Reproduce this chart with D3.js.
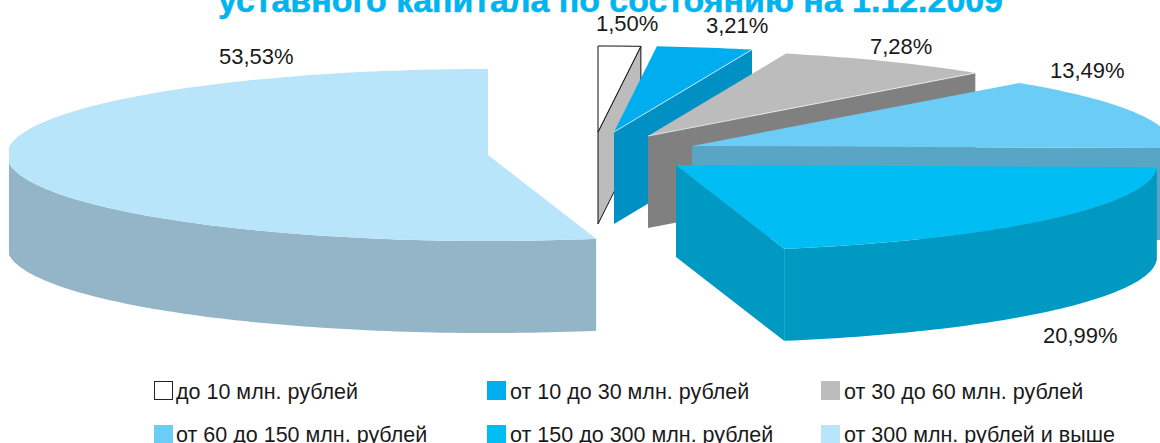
<!doctype html>
<html lang="ru">
  <head>
    <meta charset="utf-8">
    <style>
html, body { margin: 0; padding: 0; background: #fff; overflow: hidden; }
svg { display: block; }
text { font-family: "Liberation Sans", Arial, sans-serif; }
    </style>
    <script src="https://cdn.jsdelivr.net/npm/d3@7"></script>
  </head>
  <body>
    <div id="chart"></div>
    <script type="text/javascript">
//=============================== DATA ===================================
var categories = ['до 10 млн. рублей', 'от 10 до 30 млн. рублей', 'от 30 до 60 млн. рублей',
	'от 60 до 150 млн. рублей', 'от 150 до 300 млн. рублей', 'от 300 млн. рублей и выше']
var shares = [1.50, 3.21, 7.28, 13.49, 20.99, 53.53]
var shareLabels = ['1,50%', '3,21%', '7,28%', '13,49%', '20,99%', '53,53%']
var title = 'уставного капитала по состоянию на 1.12.2009'

//=============================== LAYOUT =================================
var W = 1160, H = 443
var rx = 481, ry = 86, depth = 92
var turn = -0.005	// the pie is turned a hair anticlockwise
var topColors  = ['#ffffff', '#00adef', '#bcbcbc', '#6bcdf6', '#00bdf4', '#b8e5fa']
var wallColors = ['#bcbcbc', '#0090c4', '#808080', '#58a5c6', '#0099c2', '#94b5c8']
// where each exploded slice has its tip, same order as the data
var tips = [[598, 132], [614, 132], [648, 136], [692, 146], [676, 165], [488, 155]]
var labelPos = [[596, 31], [706, 33], [870, 54], [1050, 78], [1043, 343], [219, 64]]
var legendCols = [[154, 176], [487, 510], [821, 844]]
var legendRows = [381, 425]
var legendBase = [399, 442]
var drawOrder = [0, 1, 2, 3, 5, 4]

//=============================== DRAW ===================================
var svg = d3.select('#chart').append('svg').attr('width', W).attr('height', H)
svg.append('defs').append('clipPath').attr('id', 'plot')
	.append('rect').attr('x', 9).attr('y', 0).attr('width', W - 9).attr('height', H)

var arcs = d3.pie().sort(null).startAngle(turn).endAngle(2 * Math.PI + turn)(shares)
// the outer edges at 12 o'clock stay vertical
arcs[0].startAngle = 0
arcs[arcs.length - 1].endAngle = 2 * Math.PI
var line = d3.line()

function pt(i, a, dy) {
	return [tips[i][0] + rx * Math.sin(a), tips[i][1] - ry * Math.cos(a) + (dy || 0)]
}
function sweep(a, b) {
	var n = Math.max(2, Math.ceil((b - a) / 0.02))
	return d3.range(n + 1).map((k)=>{ return a + (b - a) * k / n })
}

svg.append('text').attr('x', 218).attr('y', 12)
	.attr('font-size', 33).attr('font-weight', 'bold').attr('fill', '#00b4f0')
	.attr('stroke', '#00b4f0').attr('stroke-width', 0.5)
	.attr('textLength', 785).attr('lengthAdjust', 'spacingAndGlyphs')
	.text(title)

var g = svg.append('g').attr('clip-path', 'url(#plot)')
drawOrder.forEach((i)=>{
	var a0 = arcs[i].startAngle, a1 = arcs[i].endAngle
	var edge = i == 0 ? '#111' : 'none'

	// cut face along the end radius, turned towards the viewer
	if (a1 < Math.PI) {
		g.append('path')
			.attr('d', line([tips[i], pt(i, a1), pt(i, a1, depth), [tips[i][0], tips[i][1] + depth]]) + 'Z')
			.attr('fill', wallColors[i]).attr('stroke', edge).attr('stroke-width', 1)
	}
	// outer wall, only the front half of the rim shows
	var w0 = Math.max(a0, Math.PI / 2), w1 = Math.min(a1, Math.PI * 1.5)
	if (w1 > w0) {
		var rim = sweep(w0, w1)
		var wall = rim.map((a)=>{ return pt(i, a) })
			.concat(rim.slice().reverse().map((a)=>{ return pt(i, a, depth) }))
		g.append('path').attr('d', line(wall) + 'Z').attr('fill', wallColors[i])
	}
	// top surface
	var top = [tips[i]].concat(sweep(a0, a1).map((a)=>{ return pt(i, a) }))
	g.append('path').attr('d', line(top) + 'Z')
		.attr('fill', topColors[i]).attr('stroke', edge).attr('stroke-width', 1)
	// thin light seam on the two middle slices
	if (i == 1 || i == 2) {
		g.append('path').attr('d', line([tips[i], pt(i, a1)]))
			.attr('stroke', '#e8f4fa').attr('stroke-width', 0.8).attr('fill', 'none')
	}
})

svg.selectAll('text.share').data(shareLabels).enter().append('text').classed('share', true)
	.attr('x', (d, i)=>{ return labelPos[i][0] })
	.attr('y', (d, i)=>{ return labelPos[i][1] })
	.attr('font-size', 22).attr('fill', '#1a1a1a')
	.text((d)=>{ return d })

var legend = svg.selectAll('g.legend').data(categories).enter().append('g').classed('legend', true)
legend.append('rect')
	.attr('x', (d, i)=>{ return legendCols[i % 3][0] + (i == 0 ? 0.5 : 0) })
	.attr('y', (d, i)=>{ return legendRows[Math.floor(i / 3)] + (i == 0 ? 0.5 : 0) })
	.attr('width', (d, i)=>{ return i == 0 ? 18 : 19 })
	.attr('height', (d, i)=>{ return i == 0 ? 18 : 19 })
	.attr('fill', (d, i)=>{ return topColors[i] })
	.attr('stroke', (d, i)=>{ return i == 0 ? '#222' : 'none' })
legend.append('text')
	.attr('x', (d, i)=>{ return legendCols[i % 3][1] })
	.attr('y', (d, i)=>{ return legendBase[Math.floor(i / 3)] })
	.attr('font-size', 21.5).attr('fill', '#1a1a1a')
	.text((d)=>{ return d })
    </script>
  </body>
</html>
